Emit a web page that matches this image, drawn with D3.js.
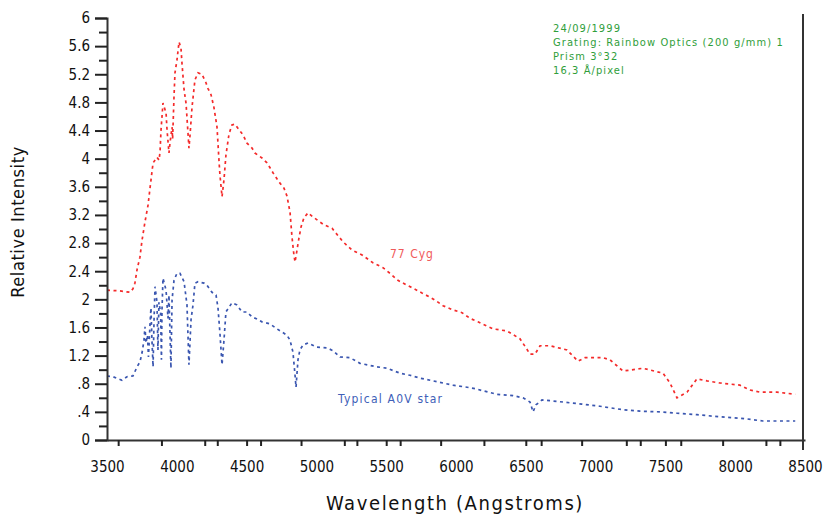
<!DOCTYPE html>
<html>
<head>
<meta charset="utf-8">
<script src="https://cdn.jsdelivr.net/npm/d3@7"></script>
<style>
  body { margin: 0; background: #fff; }
  text { font-family: 'Liberation Sans Narrow', 'DejaVu Sans Condensed', sans-serif; }
</style>
</head>
<body>
<svg id="chart" width="833" height="518"></svg>
<script>
// 77 Cyg spectrum (wavelength in Angstroms, relative intensity)
const cygWave = [3500, 3593, 3665, 3686, 3700, 3715, 3736, 3751, 3772, 3794, 3808, 3830, 3858, 3873, 3880, 3887,
  3901, 3923, 3930, 3944, 3951, 3966, 3970, 3980, 3987, 4001, 4016, 4030, 4037, 4052, 4066, 4080, 4087, 4095,
  4109, 4116, 4130, 4152, 4180, 4209, 4223, 4245, 4266, 4288, 4302, 4309, 4324, 4338, 4352, 4374, 4395, 4417,
  4446, 4474, 4503, 4539, 4560, 4610, 4646, 4668, 4689, 4732, 4768, 4789, 4811, 4825, 4839, 4847, 4861, 4875,
  4890, 4911, 4940, 4976, 5054, 5112, 5190, 5255, 5327, 5405, 5477, 5527, 5584, 5649, 5692, 5756, 5814, 5849,
  5907, 5978, 6043, 6100, 6157, 6265, 6365, 6458, 6508, 6530, 6566, 6602, 6673, 6795, 6874, 6924, 7053, 7103,
  7196, 7339, 7483, 7533, 7583, 7655, 7726, 7798, 7891, 8034, 8106, 8177, 8299, 8430];
const cygFlux = [2.13, 2.12, 2.10, 2.15, 2.23, 2.42, 2.60, 2.84, 3.10, 3.34, 3.58, 3.94, 4.02, 3.98, 4.10, 4.41,
  4.79, 4.65, 4.41, 4.08, 4.22, 4.45, 4.28, 4.88, 5.22, 5.40, 5.66, 5.57, 5.36, 4.98, 4.79, 4.37, 4.15, 4.34,
  4.73, 4.86, 5.12, 5.22, 5.20, 5.08, 5.00, 4.91, 4.73, 4.45, 3.98, 3.77, 3.46, 3.70, 4.05, 4.35, 4.48, 4.49,
  4.41, 4.34, 4.22, 4.15, 4.08, 4.01, 3.94, 3.87, 3.80, 3.67, 3.58, 3.47, 3.24, 2.89, 2.63, 2.53, 2.70, 2.87,
  3.03, 3.16, 3.23, 3.17, 3.06, 3.01, 2.82, 2.70, 2.63, 2.52, 2.45, 2.37, 2.27, 2.20, 2.16, 2.09, 2.03, 1.99,
  1.91, 1.85, 1.81, 1.73, 1.68, 1.58, 1.55, 1.44, 1.29, 1.22, 1.22, 1.34, 1.34, 1.28, 1.12, 1.17, 1.17, 1.14,
  0.98, 1.02, 0.95, 0.81, 0.60, 0.68, 0.87, 0.84, 0.81, 0.78, 0.71, 0.68, 0.68, 0.65];

// Typical A0V star
const a0vWave = [3500, 3543, 3579, 3607, 3643, 3686, 3715, 3736, 3751, 3765, 3772, 3779, 3790, 3797, 3808, 3815,
  3822, 3830, 3837, 3844, 3858, 3865, 3872, 3884, 3890, 3894, 3901, 3923, 3937, 3944, 3958, 3966, 3980, 4001,
  4023, 4052, 4073, 4087, 4102, 4116, 4130, 4152, 4195, 4216, 4252, 4281, 4295, 4309, 4324, 4338, 4352, 4395,
  4431, 4467, 4503, 4539, 4574, 4610, 4668, 4718, 4789, 4811, 4832, 4847, 4854, 4868, 4882, 4904, 4940, 5004,
  5076, 5119, 5169, 5241, 5312, 5434, 5506, 5599, 5670, 5742, 5885, 5978, 6079, 6136, 6193, 6294, 6408, 6480,
  6530, 6552, 6573, 6616, 6766, 6902, 7031, 7196, 7318, 7461, 7583, 7726, 7891, 8084, 8199, 8430];
const a0vFlux = [0.91, 0.90, 0.87, 0.85, 0.90, 0.91, 1.04, 1.11, 1.24, 1.42, 1.61, 1.38, 1.49, 1.18, 1.64, 1.88,
  1.42, 1.04, 1.71, 2.18, 1.96, 1.28, 1.96, 1.81, 1.14, 1.85, 2.30, 2.13, 1.73, 2.06, 1.02, 1.99, 2.27, 2.37,
  2.37, 2.25, 1.92, 1.07, 1.71, 1.92, 2.23, 2.25, 2.23, 2.20, 2.10, 2.06, 1.88, 1.52, 1.07, 1.42, 1.82, 1.95,
  1.92, 1.82, 1.82, 1.75, 1.72, 1.68, 1.65, 1.58, 1.49, 1.42, 1.25, 0.92, 0.75, 1.14, 1.28, 1.35, 1.38, 1.32,
  1.31, 1.27, 1.18, 1.17, 1.09, 1.04, 1.02, 0.95, 0.92, 0.88, 0.82, 0.78, 0.75, 0.73, 0.70, 0.65, 0.63, 0.60,
  0.54, 0.40, 0.50, 0.57, 0.54, 0.51, 0.48, 0.43, 0.41, 0.40, 0.38, 0.36, 0.33, 0.30, 0.27, 0.27];

const xTicks = [3500, 4000, 4500, 5000, 5500, 6000, 6500, 7000, 7500, 8000, 8500];
const xMinorTicks = [3580, 3890, 4200, 4290, 4500, 4600, 4890, 5200, 5290, 5500, 5600, 5890, 6200, 6500, 6610,
  6900, 7220, 7320, 7500, 7610, 7910, 8220, 8320];
const yTicks = [0, 0.4, 0.8, 1.2, 1.6, 2, 2.4, 2.8, 3.2, 3.6, 4, 4.4, 4.8, 5.2, 5.6, 6];
const yTickLabels = ['0', '.4', '.8', '1.2', '1.6', '2', '2.4', '2.8', '3.2', '3.6', '4', '4.4', '4.8', '5.2', '5.6', '6'];
const notes = ['24/09/1999', 'Grating: Rainbow Optics (200 g/mm) 1', 'Prism 3°32', '16,3 Å/pixel'];

const svg = d3.select('#chart');
const m = { left: 107, right: 805, top: 18, bottom: 440 };

const x = d3.scaleLinear().domain([3500, 8500]).range([m.left, m.right]);
const y = d3.scaleLinear().domain([0, 6]).range([m.bottom, m.top]);

const line = d3.line().x(d => x(d[0])).y(d => y(d[1]));

const series = [
  { wave: cygWave, flux: cygFlux, color: '#f42a2a' },
  { wave: a0vWave, flux: a0vFlux, color: '#3a56b0' }
];
series.forEach(s => {
  svg.append('path')
    .datum(s.wave.map((w, i) => [w, s.flux[i]]))
    .attr('d', line)
    .attr('fill', 'none')
    .attr('stroke', s.color)
    .attr('stroke-width', 1.7)
    .attr('stroke-dasharray', '3,3.5');
});

// y axis
const yAxis = svg.append('g').attr('transform', `translate(${m.left},0)`)
  .call(d3.axisLeft(y).tickValues(yTicks).tickFormat((d, i) => yTickLabels[i]).tickSize(12).tickPadding(5));
svg.append('g').attr('transform', `translate(${m.left},0)`)
  .call(d3.axisLeft(y).tickValues(d3.range(0.2, 6, 0.4)).tickFormat('').tickSize(8))
  .select('.domain').remove();

// x axis
const xAxis = svg.append('g').attr('transform', `translate(0,${m.bottom})`)
  .call(d3.axisBottom(x).tickValues(xTicks).tickFormat(d3.format('d')).tickSize(0).tickPadding(21));
svg.append('g').attr('transform', `translate(0,${m.bottom})`)
  .call(d3.axisBottom(x).tickValues(xMinorTicks).tickFormat('').tickSize(6))
  .select('.domain').remove();

[yAxis, xAxis].forEach(g => {
  g.select('.domain').attr('stroke', '#333').attr('stroke-width', 2);
  g.selectAll('.tick text').attr('font-size', 15).attr('fill', '#111');
});
svg.selectAll('.tick line').attr('stroke', '#222').attr('stroke-width', 2);

// right edge line
svg.append('line')
  .attr('x1', m.right - 2).attr('x2', m.right - 2)
  .attr('y1', m.top - 4).attr('y2', m.bottom + 10)
  .attr('stroke', '#333').attr('stroke-width', 2);

svg.append('text')
  .attr('x', 455).attr('y', 510)
  .attr('text-anchor', 'middle')
  .attr('font-size', 20)
  .attr('letter-spacing', 1.6)
  .attr('fill', '#111')
  .text('Wavelength (Angstroms)');

svg.append('text')
  .attr('transform', 'translate(24,222) rotate(-90)')
  .attr('text-anchor', 'middle')
  .attr('font-size', 18)
  .attr('letter-spacing', 0.6)
  .attr('fill', '#111')
  .text('Relative Intensity');

svg.append('text')
  .attr('x', 390).attr('y', 258)
  .attr('font-size', 12).attr('letter-spacing', 1).attr('fill', '#f05a5a')
  .text('77 Cyg');

svg.append('text')
  .attr('x', 338).attr('y', 403)
  .attr('font-size', 12).attr('letter-spacing', 1.2).attr('fill', '#4060b8')
  .text('Typical A0V star');

svg.append('g').selectAll('text')
  .data(notes)
  .join('text')
  .attr('x', 553)
  .attr('y', (d, i) => 32 + i * 14)
  .attr('font-size', 11)
  .attr('letter-spacing', 1.1)
  .attr('fill', '#2f9e3a')
  .text(d => d);
</script>
</body>
</html>
